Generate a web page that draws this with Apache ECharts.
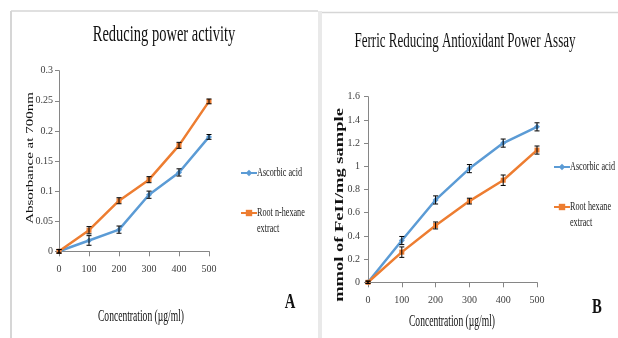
<!DOCTYPE html>
<html>
<head>
<meta charset="utf-8">
<style>
  html, body { margin: 0; padding: 0; background: #fff; }
  #main { width: 618px; height: 338px; }
</style>
</head>
<body>
<div id="main"></div>
<script src="https://cdn.jsdelivr.net/npm/echarts@6/dist/echarts.min.js"></script>
<script type="text/javascript">
    // concentrations (µg/ml) shared by both panels
    var conc = [0, 100, 200, 300, 400, 500];

    // panel A - reducing power, absorbance at 700nm
    var ascA = [0, 0.018, 0.036, 0.094, 0.131, 0.19];
    var ascAErr = [0.003, 0.008, 0.006, 0.006, 0.006, 0.004];
    var hexA = [0, 0.035, 0.084, 0.119, 0.176, 0.249];
    var hexAErr = [0.003, 0.006, 0.005, 0.005, 0.005, 0.004];
    var yTicksA = ['0', '0.05', '0.1', '0.15', '0.2', '0.25', '0.3'];

    // panel B - FRAP, mmol FeII/mg sample
    var ascB = [0, 0.36, 0.71, 0.98, 1.2, 1.34];
    var ascBErr = [0.01, 0.035, 0.035, 0.035, 0.035, 0.035];
    var hexB = [0, 0.26, 0.49, 0.70, 0.88, 1.14];
    var hexBErr = [0.01, 0.045, 0.03, 0.025, 0.045, 0.035];
    var yTicksB = ['0', '0.2', '0.4', '0.6', '0.8', '1', '1.2', '1.4', '1.6'];

    var xTicks = ['0', '100', '200', '300', '400', '500'];

    var blue = '#5B9BD5';
    var orange = '#ED7D31';
    var serif = '"Liberation Serif", "Times New Roman", serif';

    function xAxis(grid) {
        return {
            type: 'value', gridIndex: grid, min: 0, max: 500, interval: 100,
            axisLine: {lineStyle: {color: '#868686', width: 1}},
            axisTick: {show: true, length: 5, lineStyle: {color: '#868686'}},
            axisLabel: {margin: 13, color: '#404040', fontFamily: serif, fontSize: 10,
                formatter: function (v) { return xTicks[Math.round(v / 100)]; }},
            splitLine: {show: false}
        };
    }

    function yAxis(grid, max, step, ticks, margin) {
        return {
            type: 'value', gridIndex: grid, min: 0, max: max, interval: step,
            axisLine: {show: true, lineStyle: {color: '#868686', width: 1}},
            axisTick: {show: true, length: 4, lineStyle: {color: '#868686'}},
            axisLabel: {margin: margin, color: '#404040', fontFamily: serif, fontSize: 10,
                formatter: function (v) { return ticks[Math.round(v / step)]; }},
            splitLine: {show: false}
        };
    }

    function line(name, idx, vals, color, symbol, size) {
        return {
            name: name, type: 'line', xAxisIndex: idx, yAxisIndex: idx, z: 3,
            data: conc.map(function (c, i) { return [c, vals[i]]; }),
            symbol: symbol, symbolSize: size, showSymbol: true,
            lineStyle: {color: color, width: 2.5},
            itemStyle: {color: color},
            emphasis: {disabled: true}
        };
    }

    function errBars(idx, vals, errs) {
        return {
            type: 'custom', xAxisIndex: idx, yAxisIndex: idx, z: 5, silent: true,
            data: conc.map(function (c, i) { return [c, vals[i], errs[i]]; }),
            renderItem: function (params, api) {
                var x = api.value(0), y = api.value(1), e = api.value(2);
                var t = api.coord([x, y + e]), b = api.coord([x, y - e]);
                var w = 2.5, st = {stroke: '#000', lineWidth: 1};
                return {type: 'group', children: [
                    {type: 'line', shape: {x1: t[0], y1: t[1], x2: b[0], y2: b[1]}, style: st},
                    {type: 'line', shape: {x1: t[0] - w, y1: t[1], x2: t[0] + w, y2: t[1]}, style: st},
                    {type: 'line', shape: {x1: b[0] - w, y1: b[1], x2: b[0] + w, y2: b[1]}, style: st}
                ]};
            }
        };
    }

    // legend keys only; the (condensed) key text is drawn as graphic text below
    function legend(name, left, top) {
        return {
            data: [name], left: left, top: top, orient: 'vertical', padding: 0,
            itemWidth: 16, itemHeight: 8, itemGap: 0, selectedMode: false,
            formatter: function () { return ''; }
        };
    }

    function txt(text, x, y, size, sx, opts) {
        opts = opts || {};
        return {
            type: 'text', x: x, y: y, rotation: opts.rot || 0,
            scaleX: sx, scaleY: opts.sy || 1, silent: true,
            style: {text: text, fontFamily: serif, fontSize: size,
                fontWeight: opts.bold ? 'bold' : 'normal', fill: opts.fill || '#111',
                align: opts.align || 'center', verticalAlign: 'middle'}
        };
    }

    function key(text, x, y) {
        return txt(text, x, y, 12, 0.68, {align: 'left', fill: '#222'});
    }

    var myChart = echarts.init(document.getElementById('main'), null, {renderer: 'canvas'});
    var option = {
        backgroundColor: '#fff',
        animation: false,
        grid: [
            {left: 59, top: 70.7, width: 150, height: 180.6},
            {left: 368, top: 96.7, width: 169, height: 185.6}
        ],
        xAxis: [xAxis(0), xAxis(1)],
        yAxis: [yAxis(0, 0.3, 0.05, yTicksA, 6), yAxis(1, 1.6, 0.2, yTicksB, 8)],
        legend: [
            legend('Ascorbic acid', 240, 169),
            legend('Root n-hexane extract', 240, 209),
            legend('Ascorbic acid ', 553, 163),
            legend('Root hexane extract', 553, 203)
        ],
        series: [
            line('Ascorbic acid', 0, ascA, blue, 'diamond', 6),
            line('Root n-hexane extract', 0, hexA, orange, 'rect', 5),
            line('Ascorbic acid ', 1, ascB, blue, 'diamond', 6),
            line('Root hexane extract', 1, hexB, orange, 'rect', 5),
            errBars(0, ascA, ascAErr),
            errBars(0, hexA, hexAErr),
            errBars(1, ascB, ascBErr),
            errBars(1, hexB, hexBErr)
        ],
        graphic: [
            // panel frames
            {type: 'line', silent: true, shape: {x1: 11, y1: 11, x2: 318, y2: 11}, style: {stroke: '#d6d6d6', lineWidth: 1.5}},
            {type: 'line', silent: true, shape: {x1: 11, y1: 11, x2: 11, y2: 338}, style: {stroke: '#d6d6d6', lineWidth: 2}},
            {type: 'rect', silent: true, shape: {x: 318, y: 11, width: 4, height: 327}, style: {fill: '#e9e9e9'}},
            {type: 'line', silent: true, shape: {x1: 322, y1: 12.5, x2: 618, y2: 12.5}, style: {stroke: '#d6d6d6', lineWidth: 1.5}},
            // panel A texts
            txt('Reducing power activity', 164, 35, 23, 0.63),
            txt('Absorbance at 700nm', 30, 158, 15, 1, {rot: Math.PI / 2, sy: 0.75}),
            txt('Concentration (µg/ml)', 141, 317, 16.5, 0.58),
            txt('A', 290, 303, 21, 0.7, {bold: true}),
            key('Ascorbic acid', 257, 173),
            key('Root n-hexane', 257, 213),
            key('extract', 257, 229),
            // panel B texts
            txt('Ferric Reducing Antioxidant Power Assay', 465, 42, 20, 0.65),
            txt('mmol of FeII/mg sample', 340, 205, 18.5, 1, {rot: Math.PI / 2, sy: 0.72, bold: true}),
            txt('Concentration (µg/ml)', 452, 322, 16.5, 0.58),
            txt('B', 597, 308, 21, 0.7, {bold: true}),
            key('Ascorbic acid', 570, 167),
            key('Root hexane', 570, 207),
            key('extract', 570, 223)
        ]
    };

    myChart.setOption(option);
</script>
</body>
</html>
